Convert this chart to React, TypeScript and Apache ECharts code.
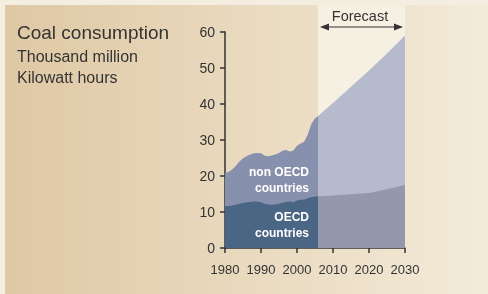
import React, { useEffect, useRef } from "react";
import * as echarts from "echarts";

const histYears = [1980,1981,1982,1983,1984,1985,1986,1987,1988,1989,1990,1991,1992,1993,1994,1995,1996,1997,1998,1999,2000,2001,2002,2003,2004,2005,2006];
const histOECD = [11.7,11.7,11.8,12.0,12.3,12.5,12.7,12.8,12.9,12.9,12.7,12.3,12.1,12.0,12.1,12.3,12.6,12.8,12.9,12.7,13.2,13.4,13.5,13.8,14.1,14.3,14.4];
const histNonOECD = [9.0,9.5,10.0,10.8,11.7,12.4,12.8,13.2,13.4,13.5,13.6,13.3,13.4,13.7,13.9,14.1,14.4,14.4,13.9,14.4,15.2,15.6,16.0,17.7,20.4,21.7,22.4];

const fcYears = [2006,2010,2015,2020,2025,2030];
const fcOECD = [14.4,14.6,14.9,15.3,16.3,17.5];
const fcNonOECD = [22.4,25.7,29.9,34.0,37.7,41.5];

const xTicks = [1980,1990,2000,2010,2020,2030];
const yTicks = [0,10,20,30,40,50,60];

const FONT = "Liberation Sans, Arial, sans-serif";

export default function App() {
  const ref = useRef<HTMLDivElement>(null);
  useEffect(() => {
    if (!ref.current) return;
    const chart = echarts.init(ref.current, undefined, { renderer: "svg" });
    const pair = (ys: number[], vs: number[]) => ys.map((y, i) => [y, vs[i]]);
    const total = (ys: number[], a: number[], b: number[]) => ys.map((y, i) => [y, +(a[i] + b[i]).toFixed(2)]);
    const areaSeries = (data: number[][], color: string) => ({
      type: "line",
      data,
      showSymbol: false,
      symbol: "none",
      lineStyle: { width: 0 },
      areaStyle: { color, opacity: 1 },
      silent: true,
      z: 2,
    });
    chart.setOption({
      animation: false,
      grid: { left: 225, right: 83, top: 32, bottom: 46 },
      xAxis: {
        type: "value",
        min: 1980,
        max: 2030,
        interval: 10,
        splitLine: { show: false },
        axisLine: { show: true, lineStyle: { color: "#333", width: 1.5 } },
        axisTick: { show: true, length: 5, lineStyle: { color: "#333", width: 1.5 } },
        axisLabel: {
          color: "#333",
          fontSize: 13,
          fontFamily: FONT,
          margin: 15,
          formatter: (v: number) => (xTicks.includes(v) ? String(v) : ""),
        },
      },
      yAxis: {
        type: "value",
        min: 0,
        max: 60,
        interval: 10,
        splitLine: { show: false },
        axisLine: { show: true, lineStyle: { color: "#333", width: 1.5 } },
        axisTick: { show: true, length: 5, lineStyle: { color: "#333", width: 1.5 } },
        axisLabel: {
          color: "#333",
          fontSize: 14,
          fontFamily: FONT,
          margin: 10,
          formatter: (v: number) => (yTicks.includes(v) ? String(v) : ""),
        },
      },
      graphic: [
        { type: "rect", z: -10, shape: { x: 0, y: 0, width: 488, height: 294 }, style: { fill: "#f4eee1" } },
        {
          type: "rect",
          z: -9,
          shape: { x: 5, y: 5, width: 483, height: 289 },
          style: {
            fill: new echarts.graphic.LinearGradient(0, 0, 1, 0, [
              { offset: 0, color: "#dfc8a4" },
              { offset: 1, color: "#f3ebd9" },
            ]),
          },
        },
        { type: "rect", z: -8, shape: { x: 318, y: 5, width: 87, height: 243 }, style: { fill: "#f6f0e3" } },
        { type: "text", z: 50, x: 17, y: 32, style: { text: "Coal consumption", font: `19px ${FONT}`, fill: "#333", verticalAlign: "middle" } },
        { type: "text", z: 50, x: 17, y: 56, style: { text: "Thousand million", font: `16px ${FONT}`, fill: "#333", verticalAlign: "middle" } },
        { type: "text", z: 50, x: 17, y: 77.5, style: { text: "Kilowatt hours", font: `16px ${FONT}`, fill: "#333", verticalAlign: "middle" } },
        { type: "text", z: 50, x: 360, y: 16, style: { text: "Forecast", font: `14.5px ${FONT}`, fill: "#333", align: "center", verticalAlign: "middle" } },
        { type: "line", z: 50, shape: { x1: 322, y1: 27, x2: 401, y2: 27 }, style: { stroke: "#333", lineWidth: 1.2 } },
        { type: "polygon", z: 50, shape: { points: [[320, 27], [329, 23.5], [329, 30.5]] }, style: { fill: "#333" } },
        { type: "polygon", z: 50, shape: { points: [[403, 27], [394, 23.5], [394, 30.5]] }, style: { fill: "#333" } },
        { type: "text", z: 50, x: 309, y: 172, style: { text: "non OECD", font: `bold 12px ${FONT}`, fill: "#ffffff", align: "right", verticalAlign: "middle" } },
        { type: "text", z: 50, x: 309, y: 188, style: { text: "countries", font: `bold 12px ${FONT}`, fill: "#ffffff", align: "right", verticalAlign: "middle" } },
        { type: "text", z: 50, x: 309, y: 217, style: { text: "OECD", font: `bold 12px ${FONT}`, fill: "#ffffff", align: "right", verticalAlign: "middle" } },
        { type: "text", z: 50, x: 309, y: 233, style: { text: "countries", font: `bold 12px ${FONT}`, fill: "#ffffff", align: "right", verticalAlign: "middle" } },
      ],
      series: [
        areaSeries(total(histYears, histOECD, histNonOECD), "#8791ad"),
        areaSeries(pair(histYears, histOECD), "#4b6584"),
        areaSeries(total(fcYears, fcOECD, fcNonOECD), "#b5bacd"),
        areaSeries(pair(fcYears, fcOECD), "#9398aa"),
      ],
    });
    return () => chart.dispose();
  }, []);
  return <div ref={ref} style={{ position: "fixed", left: 0, top: 0, width: 488, height: 294 }} />;
}
